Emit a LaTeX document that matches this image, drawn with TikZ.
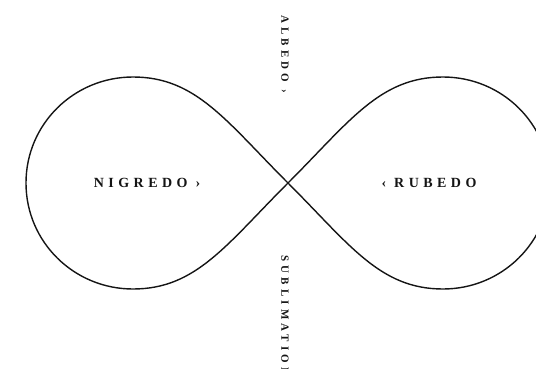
\documentclass[tikz,border=0pt]{standalone}
\usepackage{fontspec}
\setmainfont{Liberation Serif}
\newfontfamily\stagefont[LetterSpace=32]{Liberation Serif}
\newfontfamily\phasefont[LetterSpace=38]{Liberation Serif}
\usepackage{tikz}
\definecolor{inkline}{HTML}{151515}
\definecolor{inktext}{HTML}{141414}
\tikzstyle{stage} = [inner sep=0pt, text=inktext, font=\stagefont\bfseries\fontsize{14}{16}\selectfont]
\tikzstyle{phase} = [inner sep=0pt, text=inktext, rotate=-90, anchor=west, font=\phasefont\bfseries\fontsize{11}{13}\selectfont]
\tikzstyle{loopline} = [line width=1.4pt, draw=inkline]

\begin{document}
\begin{tikzpicture}[x=1pt, y=1pt]
    \useasboundingbox (-288,-185) rectangle (248,183);
    \clip (-288,-185) rectangle (248,183);
    % Crossing
    \coordinate (cross) at (0,0);

    % Infinity loop
    \draw[loopline] (cross) .. controls (62,62) and (92,106) .. (155,106)
        .. controls (214,106) and (262,59) .. (262,0)
        .. controls (262,-59) and (214,-106) .. (155,-106)
        .. controls (92,-106) and (62,-62) .. (cross)
        .. controls (-62,62) and (-92,106) .. (-155,106)
        .. controls (-214,106) and (-262,59) .. (-262,0)
        .. controls (-262,-59) and (-214,-106) .. (-155,-106)
        .. controls (-92,-106) and (-62,-62) .. (cross);

    % Stages
    \node[stage] (nigredo) at (-141,0) {NIGREDO ›};
    \node[stage] (rubedo) at (141,0) {‹ RUBEDO};

    % Phases
    \node[phase] (albedo) at (-3,168) {ALBEDO ›};
    \node[phase] (sublimation) at (-3,-72) {SUBLIMATION};
\end{tikzpicture}
\end{document}
